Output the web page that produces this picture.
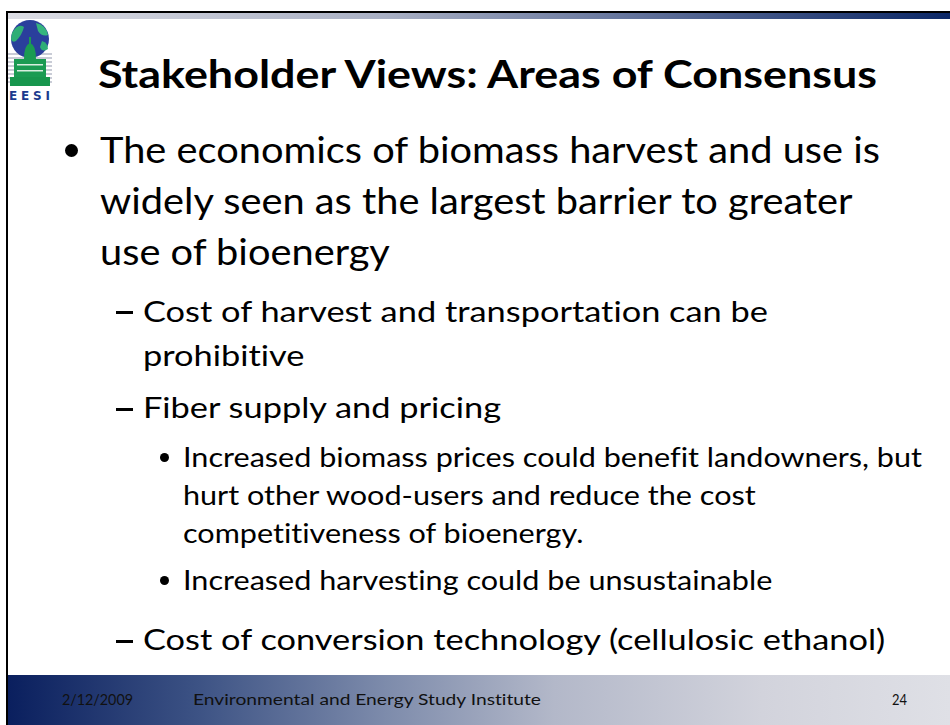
<!DOCTYPE html>
<html>
<head>
<meta charset="utf-8">
<script src="https://cdn.jsdelivr.net/npm/chart.js@4.4.1/dist/chart.umd.min.js"></script>
<style>
  html, body { margin: 0; padding: 0; background: #fff; }
  #slide { position: relative; width: 950px; height: 725px; overflow: hidden; background: #fff;
           font-family: Lato, "Open Sans", sans-serif; color: #000; }
  .ln { position: absolute; white-space: nowrap; transform-origin: 0 0; line-height: 1;
        font-variant-ligatures: none; font-feature-settings: "liga" 0, "clig" 0; }
  .dot { position: absolute; border-radius: 50%; background: #000; }
</style>
</head>
<body>
<div id="slide">
  <!-- 상단 테두리 + 그라데이션 바 -->
  <div style="position:absolute;left:6px;top:11px;width:944px;height:2px;background:#000"></div>
  <div style="position:absolute;left:8px;top:13px;width:942px;height:6px;background:linear-gradient(90deg,#dcdde4 0%,#a9b0c4 40%,#4c5f8e 75%,#0b2766 100%)"></div>
  <!-- 좌측 테두리 -->
  <div style="position:absolute;left:6px;top:11px;width:2px;height:714px;background:#000"></div>
  <!-- 하단 푸터 -->
  <div id="footer" style="position:absolute;left:8px;top:675px;width:942px;height:50px;background:linear-gradient(90deg,#0a1f5e 0%,#3c5284 20%,#7d8bab 40%,#b3b8c9 58%,#d2d3dc 80%,#dfe0e6 100%)"></div>

  <!-- EESI 로고 -->
  <svg style="position:absolute;left:8px;top:19px" width="44" height="84" viewBox="0 0 44 84">
    <g fill="#c9ccd6">
      <rect x="0" y="34" width="44" height="2"/><rect x="0" y="38" width="44" height="2"/>
      <rect x="0" y="42" width="44" height="2"/><rect x="0" y="46" width="44" height="2"/>
      <rect x="0" y="50" width="44" height="2"/><rect x="0" y="54" width="44" height="2"/>
      <rect x="0" y="58" width="44" height="2"/><rect x="0" y="62" width="44" height="2"/>
    </g>
    <circle cx="22" cy="20" r="19" fill="#2a3f9c"/>
    <path d="M4 14 Q10 4 16 8 Q14 16 8 22 Q4 24 3 20 Z" fill="#2fae76"/>
    <path d="M28 4 Q38 6 40 16 Q34 18 30 12 Z" fill="#36b57e"/>
    <path d="M34 22 Q40 24 40 30 Q34 34 32 28 Z" fill="#2fae76"/>
    <path d="M16 40 Q16 26 22 24 Q28 26 28 40 Z" fill="#1a9b52"/>
    <rect x="21" y="18" width="2" height="8" fill="#1a9b52"/>
    <rect x="6" y="40" width="32" height="18" fill="#1a9b52"/>
    <g fill="#d8eedf"><rect x="9" y="45" width="26" height="1.5"/><rect x="9" y="51" width="26" height="1.5"/></g>
    <rect x="2" y="58" width="40" height="9" fill="#17964d"/>
    <text x="1" y="81" font-family="DejaVu Sans" font-weight="bold" font-size="12" fill="#1c3a8e"
          textLength="41" lengthAdjust="spacing">EESI</text>
  </svg>
</div>

<script>
// 슬라이드 내용 (텍스트 데이터)
const slideTitle = 'Stakeholder Views: Areas of Consensus';
const pointMain = ['The economics of biomass harvest and use is', 'widely seen as the largest barrier to greater', 'use of bioenergy'];
const subCost = ['Cost of harvest and transportation can be', 'prohibitive'];
const subFiber = ['Fiber supply and pricing'];
const fiberPrices = ['Increased biomass prices could benefit landowners, but', 'hurt other wood-users and reduce the cost', 'competitiveness of bioenergy.'];
const fiberHarvest = ['Increased harvesting could be unsustainable'];
const subConversion = ['Cost of conversion technology (cellulosic ethanol)'];
const footerDate = '2/12/2009';
const footerOrg = 'Environmental and Energy Study Institute';
const footerPage = '24';

// 레벨별 스타일 (폰트 크기, 시작 x, 기준 줄 너비)
const LEVELS = {
    title: { size: 39, x: 98, weight: 700, refWidth: 779 },
    1: { size: 37, x: 100, weight: 400, refWidth: 780 },
    2: { size: 29, x: 143, weight: 400, refWidth: 625 },
    3: { size: 26, x: 183, weight: 400, refWidth: 739 },
    foot: { size: 15, weight: 400 }
};

const slide = document.getElementById('slide');

// 글자 줄 하나를 baseline 기준으로 배치
function addLine(text, x, baseline, st, scale, color) {
    const d = document.createElement('div');
    d.className = 'ln';
    d.style.left = x + 'px';
    d.style.top = '0px';
    d.style.fontSize = st.size + 'px';
    d.style.fontWeight = st.weight;
    if (color) d.style.color = color;
    d.textContent = text;
    const probe = document.createElement('span');
    probe.style.cssText = 'display:inline-block;width:0;height:0';
    d.appendChild(probe);
    slide.appendChild(d);
    const base = probe.getBoundingClientRect().top - slide.getBoundingClientRect().top;
    d.style.top = (baseline - base) + 'px';
    if (scale) d.style.transform = 'scaleX(' + scale + ')';
    return d;
}

// 리거처 없이 실제 렌더 폭 측정
function measure(text, st) {
    const s = document.createElement('span');
    s.className = 'ln';
    s.style.fontSize = st.size + 'px';
    s.style.fontWeight = st.weight;
    s.style.visibility = 'hidden';
    s.textContent = text;
    slide.appendChild(s);
    const w = s.getBoundingClientRect().width;
    s.remove();
    return w;
}

function dot(cx, cy, r) {
    const d = document.createElement('div');
    d.className = 'dot';
    d.style.left = (cx - r) + 'px';
    d.style.top = (cy - r) + 'px';
    d.style.width = d.style.height = (2 * r) + 'px';
    slide.appendChild(d);
}

function dash(x, y, w) {
    const d = document.createElement('div');
    d.style.cssText = 'position:absolute;background:#000;height:2.5px';
    d.style.left = x + 'px';
    d.style.top = y + 'px';
    d.style.width = w + 'px';
    slide.appendChild(d);
}

function render() {
    // 제목
    const ts = LEVELS.title;
    addLine(slideTitle, ts.x, 88, ts, ts.refWidth / measure(slideTitle, ts));

    // 1단계
    const s1 = LEVELS[1];
    const k1 = s1.refWidth / measure(pointMain[0], s1);
    dot(71, 150, 6.5);
    [163, 214, 265].forEach((b, i) => addLine(pointMain[i], s1.x, b, s1, k1));

    // 2단계
    const s2 = LEVELS[2];
    const k2 = s2.refWidth / measure(subCost[0], s2);
    dash(116, 311, 17);
    addLine(subCost[0], s2.x, 322, s2, k2);
    addLine(subCost[1], s2.x, 366, s2, k2);
    dash(116, 408, 17);
    addLine(subFiber[0], s2.x, 418, s2, k2);

    // 3단계
    const s3 = LEVELS[3];
    const k3 = s3.refWidth / measure(fiberPrices[0], s3);
    dot(164, 457.5, 4.5);
    [467, 505, 543].forEach((b, i) => addLine(fiberPrices[i], s3.x, b, s3, k3));
    dot(164, 580.5, 4.5);
    addLine(fiberHarvest[0], s3.x, 590, s3, k3);

    dash(116, 640, 17);
    addLine(subConversion[0], s2.x, 650, s2, k2);

    // 푸터
    const fs = LEVELS.foot;
    addLine(footerDate, 62, 705, fs, 71 / measure(footerDate, fs), '#111');
    addLine(footerOrg, 193, 705, fs, 348 / measure(footerOrg, fs), '#111');
    addLine(footerPage, 892, 705, fs, 15 / measure(footerPage, fs), '#111');
}

document.fonts.load('400 36px Lato').then(() => document.fonts.load('700 39px Lato')).then(render, render);
</script>
</body>
</html>
